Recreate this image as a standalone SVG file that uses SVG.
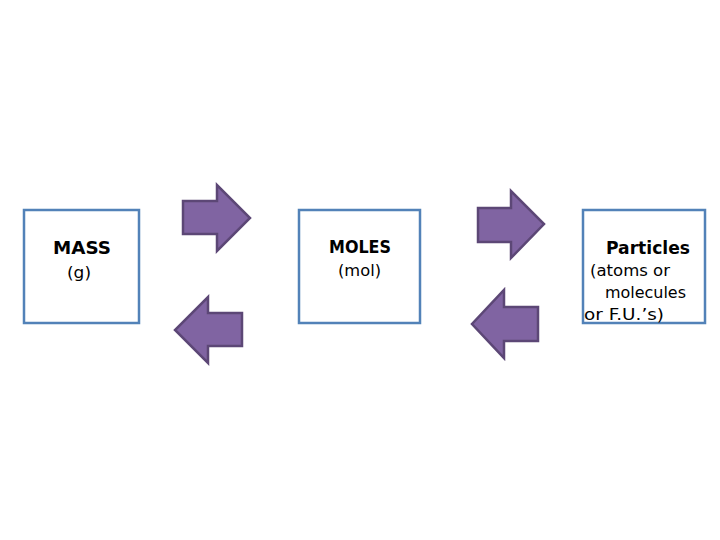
<svg xmlns="http://www.w3.org/2000/svg" width="720" height="540" viewBox="0 0 720 540">
<style>
.box{fill:#ffffff;stroke:#5282B8;stroke-width:2.5}
.arr{fill:#8064A2;stroke:#5C4776;stroke-width:2.5;stroke-linejoin:miter}
.t{font-family:"DejaVu Sans","Open Sans",sans-serif;fill:#000000}
.h{font-size:18px;font-weight:bold}
.s{font-size:16px}
</style>
<rect width="720" height="540" fill="#ffffff"/>
<g id="mass">
<rect class="box" x="24" y="210" width="115" height="113"/>
<text class="t h" x="53" y="254" textLength="58" lengthAdjust="spacingAndGlyphs">MASS</text>
<text class="t s" x="67" y="278" textLength="24" lengthAdjust="spacingAndGlyphs">(g)</text>
</g>
<g id="moles">
<rect class="box" x="299" y="210" width="121" height="113"/>
<text class="t h" x="329" y="253" textLength="62" lengthAdjust="spacingAndGlyphs">MOLES</text>
<text class="t s" x="338" y="276" textLength="43" lengthAdjust="spacingAndGlyphs">(mol)</text>
</g>
<g id="particles">
<rect class="box" x="583" y="210" width="122" height="113"/>
<text class="t h" x="606" y="254" textLength="84" lengthAdjust="spacingAndGlyphs">Particles</text>
<text class="t s" x="590" y="276" textLength="80" lengthAdjust="spacingAndGlyphs">(atoms or</text>
<text class="t s" x="605" y="298" textLength="81" lengthAdjust="spacingAndGlyphs">molecules</text>
<text class="t s" x="584" y="320" textLength="80" lengthAdjust="spacingAndGlyphs">or F.U.’s)</text>
</g>
<g id="connectors">
<polygon id="arrow1" class="arr" points="183,201 217,201 217,185 250,218 217,251 217,234 183,234"/>
<polygon id="arrow2" class="arr" points="242,313 208,313 208,297 175,330 208,363 208,346 242,346"/>
<polygon id="arrow3" class="arr" points="478,208 511,208 511,191 544,224 511,258 511,242 478,242"/>
<polygon id="arrow4" class="arr" points="538,307 504,307 504,290 472,324 504,358 504,341 538,341"/>
</g>
</svg>
